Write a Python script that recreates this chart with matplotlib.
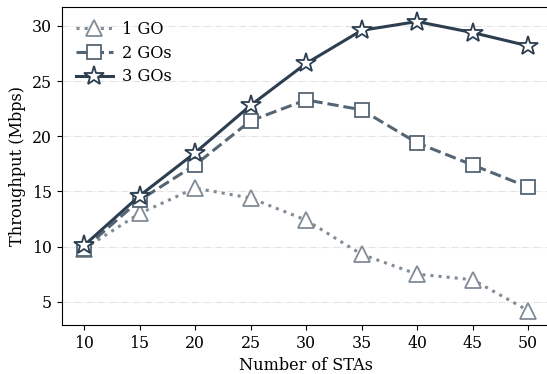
import matplotlib
matplotlib.use("Agg")
import matplotlib.pyplot as plt

plt.rcParams["font.family"] = "DejaVu Serif"

stas = [10, 15, 20, 25, 30, 35, 40, 45, 50]
go1 = [9.8, 13.0, 15.3, 14.4, 12.4, 9.3, 7.5, 7.0, 4.2]
go2 = [9.8, 14.2, 17.4, 21.4, 23.3, 22.4, 19.4, 17.4, 15.4]
go3 = [10.1, 14.6, 18.5, 22.8, 26.6, 29.6, 30.4, 29.4, 28.2]

fig = plt.figure(figsize=(5.47, 3.74), dpi=100)
ax = fig.add_axes([0.113, 0.131, 0.893, 0.85])

ax.plot(stas, go1, linestyle=":", color="#808b96", linewidth=2.2, marker="^",
        markersize=11, markerfacecolor="white", markeredgewidth=1.3, label="1 GO")
ax.plot(stas, go2, linestyle="--", color="#566573", linewidth=2.2, marker="s",
        markersize=10, markerfacecolor="white", markeredgewidth=1.3, label="2 GOs")
ax.plot(stas, go3, linestyle="-", color="#2c3e50", linewidth=2.2, marker="*",
        markersize=14.5, markerfacecolor="white", markeredgewidth=1.3, label="3 GOs")

ax.set_xticks(stas)
ax.set_yticks([5, 10, 15, 20, 25, 30])
ax.grid(axis="y", linestyle="-.", color="#e3e3e3", linewidth=0.8)
ax.set_axisbelow(True)
ax.tick_params(labelsize=11.3)
ax.set_xlabel("Number of STAs", fontsize=11.6)
ax.set_ylabel("Throughput (Mbps)", fontsize=11.6)
ax.legend(frameon=False, fontsize=11.6, loc="upper left", handlelength=2.3,
          labelspacing=0.42, handletextpad=0.6, borderaxespad=0.45)

fig.savefig("out.png", dpi=100)
